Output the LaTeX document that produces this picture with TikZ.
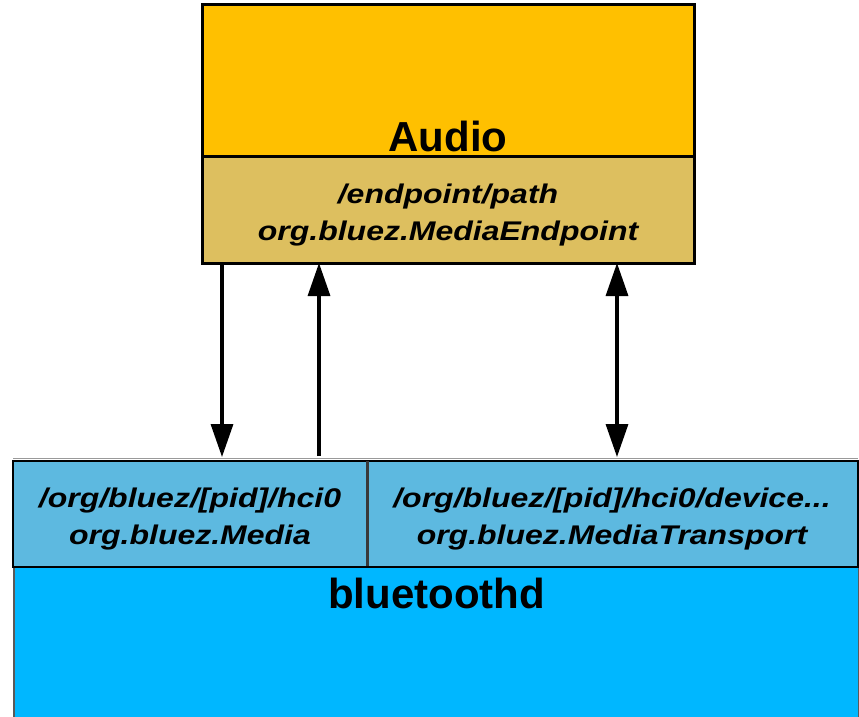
\documentclass[tikz,border=0pt]{standalone}
\usepackage{fontspec}
\setmainfont{Liberation Sans}
\newfontfamily\widefont{Liberation Sans}[FakeStretch=1.185]
\usetikzlibrary{arrows.meta}
\definecolor{audioc}{HTML}{FFC000}
\definecolor{epc}{HTML}{DDBF5F}
\definecolor{objc}{HTML}{5DB9E0}
\definecolor{btc}{HTML}{00B7FF}
\tikzset{
  box/.style={draw=black, line width=3pt, inner sep=0pt, outer sep=0pt, anchor=north west},
  objbox/.style={box, fill=objc, line width=2.6pt},
  bigtxt/.style={font=\fontsize{42}{42}\selectfont\bfseries, anchor=base, inner sep=0pt},
  smalltxt/.style={font=\widefont\fontsize{27}{36.5}\selectfont\bfseries\itshape, align=center, anchor=base, inner sep=0pt},
  conn/.style={line width=3.3pt, black}
}
\begin{document}
\begin{tikzpicture}[x=1pt,y=-1pt]
\useasboundingbox (0,0) rectangle (859,716);
% bluetoothd
\node[box, fill=btc, draw=gray!70!black, line width=1.3pt, minimum width=845pt, minimum height=170pt] (bt) at (14,567) {};
\node[bigtxt] (bttxt) at (436.5,608) {bluetoothd};
% object boxes
\node[objbox, minimum width=354pt, minimum height=106pt] (media) at (13,461) {};
\node[objbox, minimum width=491pt, minimum height=106pt] (transport) at (367,461) {};
\draw[gray!80, line width=1.5pt] ([yshift=2.6pt]media.north west) -- ([yshift=2.6pt]transport.north east);
\draw[gray!45!black, line width=3pt] (media.north east) -- (media.south east);
\draw[black, line width=2.6pt] (media.south west) -- (transport.south east);
\node[smalltxt] (mediatxt) at (190,544) {/org/bluez/[pid]/hci0\\org.bluez.Media};
\node[smalltxt] (transtxt) at (612,544) {/org/bluez/[pid]/hci0/device...\\org.bluez.MediaTransport};
% audio
\node[box, fill=audioc, minimum width=492pt, minimum height=152pt] (audio) at (202,4) {};
\node[box, fill=epc, minimum width=492pt, minimum height=107pt] (ep) at (202,156) {};
\node[bigtxt] (audiotxt) at (448,151) {Audio};
\node[smalltxt] (eptxt) at (448,240) {/endpoint/path\\org.bluez.MediaEndpoint};
% connectors
\coordinate (c1) at (222,0);
\coordinate (c2) at (319,0);
\coordinate (c3) at (617,0);
\draw[conn, -{Triangle[length=33pt,width=22pt]}] (ep.south -| c1) -- ([yshift=4pt]media.north -| c1);
\draw[conn, -{Triangle[length=33pt,width=22pt]}] ([yshift=5pt]media.north -| c2) -- (ep.south -| c2);
\draw[conn, {Triangle[length=33pt,width=22pt]}-{Triangle[length=33pt,width=22pt]}] (ep.south -| c3) -- ([yshift=4pt]transport.north -| c3);
\end{tikzpicture}
\end{document}
